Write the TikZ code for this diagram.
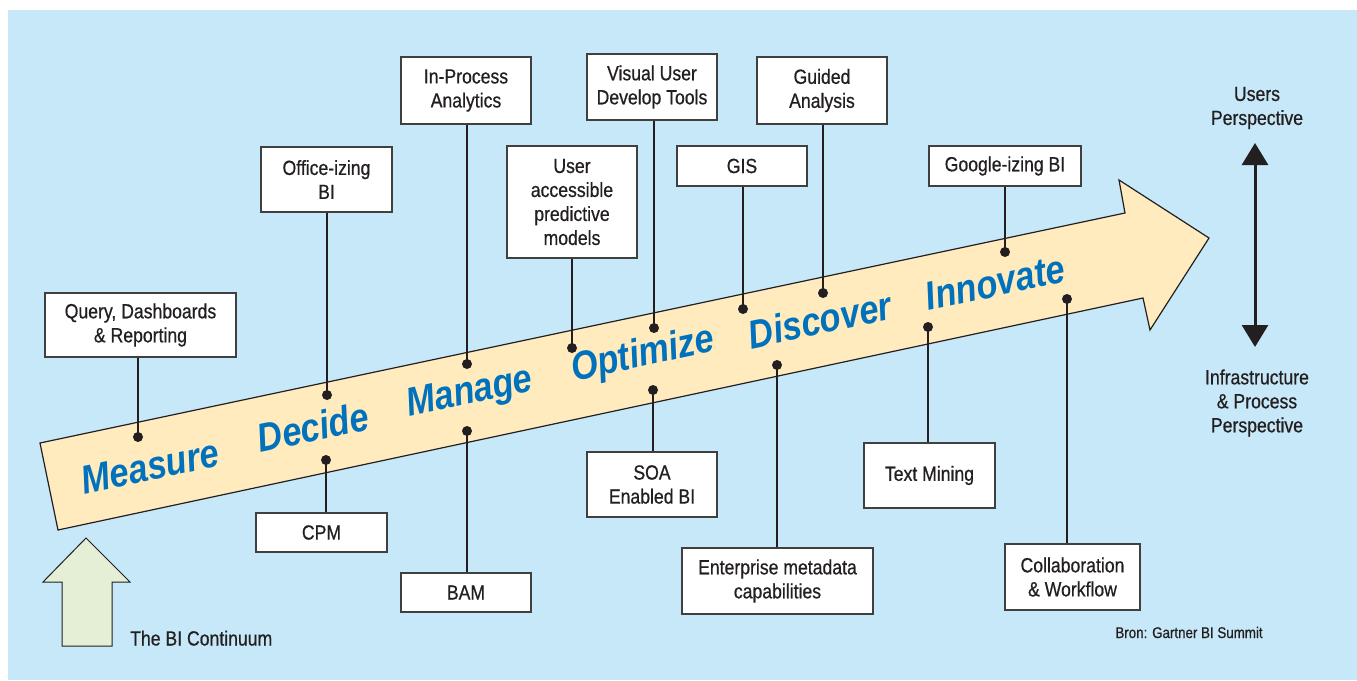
\documentclass[tikz,border=0pt]{standalone}
\usepackage{fontspec}
\setmainfont[FakeStretch=0.86,FakeBold=0.6]{Liberation Sans}
\newfontfamily\bigwordfont[FakeStretch=0.86]{Liberation Sans}
\usetikzlibrary{arrows.meta}
\definecolor{bgblue}{HTML}{C6E8F8}
\definecolor{arrowfill}{HTML}{FFEBBE}
\definecolor{greenfill}{HTML}{E4EFD6}
\definecolor{ink}{HTML}{231F20}
\definecolor{boxline}{HTML}{404040}
\definecolor{wordblue}{HTML}{0071BC}
\begin{document}
\begin{tikzpicture}[x=1pt,y=-1pt,
  box/.style={draw=boxline, fill=white, line width=1.3pt, align=center, inner sep=0pt,
    text=ink, font=\fontsize{20.5}{24}\selectfont},
  dot/.style={circle, fill=ink, inner sep=0pt, minimum size=10pt},
  conn/.style={draw=ink, line width=1.3pt},
  word/.style={text=wordblue, rotate=12, inner sep=0pt,
    font=\bigwordfont\bfseries\itshape\fontsize{40}{40}\selectfont},
  plain/.style={text=ink, align=center, inner sep=0pt, font=\fontsize{20.5}{24}\selectfont}]
\useasboundingbox (0,0) rectangle (1357,680);
\fill[white] (0,0) rectangle (1357,680);
\fill[bgblue] (8,10) rectangle (1357,680);

% main arrow
\draw[ink, line width=1.2pt, fill=arrowfill, line join=miter]
  (40,443) -- (1125,213) -- (1119,180) -- (1209,238) -- (1150,330) -- (1143,298) -- (58,530) -- cycle;

% green arrow
\draw[ink, line width=1pt, fill=greenfill]
  (86,538) -- (130,582) -- (112,582) -- (112,646) -- (62,646) -- (62,582) -- (43,582) -- cycle;

% words
\node[word] (wmeasure) at (150,467) {Measure};
\node[word] (wdecide) at (313,427) {Decide};
\node[word] (wmanage) at (470,394) {Manage};
\node[word] (woptimize) at (643,356) {Optimize};
\node[word] (wdiscover) at (820,320) {Discover};
\node[word] (winnovate) at (995,283) {Innovate};

% dots
\node[dot] (dq) at (138,437) {};
\node[dot] (doff) at (327,395) {};
\node[dot] (dcpm) at (326,460) {};
\node[dot] (dinp) at (467,364) {};
\node[dot] (dbam) at (467,431) {};
\node[dot] (duap) at (572,348) {};
\node[dot] (dvud) at (654,328) {};
\node[dot] (dsoa) at (653,390) {};
\node[dot] (dgis) at (743,309) {};
\node[dot] (dga) at (823,293) {};
\node[dot] (demc) at (777,365) {};
\node[dot] (dgog) at (1005,252) {};
\node[dot] (dtm) at (928,327) {};
\node[dot] (dcw) at (1067,299) {};

% boxes
\node[box, minimum width=191pt, minimum height=64pt] (q) at (140.5,325) {Query, Dashboards\\\& Reporting};
\node[box, minimum width=131pt, minimum height=65pt] (off) at (326.5,179.5) {Office-izing\\BI};
\node[box, minimum width=131pt, minimum height=39pt] (cpm) at (321.5,532.5) {CPM};
\node[box, minimum width=130pt, minimum height=67pt] (inp) at (466,90.5) {In-Process\\Analytics};
\node[box, minimum width=130pt, minimum height=39pt] (bam) at (466,592.5) {BAM};
\node[box, minimum width=130pt, minimum height=112pt] (uap) at (572,202) {User\\accessible\\predictive\\models};
\node[box, minimum width=130pt, minimum height=66pt] (vud) at (652,87) {Visual User\\Develop Tools};
\node[box, minimum width=130pt, minimum height=65pt] (soa) at (652,484.5) {SOA\\Enabled BI};
\node[box, minimum width=130pt, minimum height=40pt] (gis) at (742,166) {GIS};
\node[box, minimum width=130pt, minimum height=67pt] (ga) at (822,90.5) {Guided\\Analysis};
\node[box, minimum width=191pt, minimum height=66pt] (emc) at (777.5,581) {Enterprise metadata\\capabilities};
\node[box, minimum width=152pt, minimum height=40pt] (gog) at (1005,166) {Google-izing BI};
\node[box, minimum width=131pt, minimum height=65pt] (tm) at (929.5,475.5) {Text Mining};
\node[box, minimum width=135pt, minimum height=66pt] (cw) at (1072.5,577) {Collaboration\\\& Workflow};

% connectors
\draw[conn] (q.south -| dq) -- (dq.center);
\draw[conn] (off.south -| doff) -- (doff.center);
\draw[conn] (dcpm.center) -- (cpm.north -| dcpm);
\draw[conn] (inp.south -| dinp) -- (dinp.center);
\draw[conn] (dbam.center) -- (bam.north -| dbam);
\draw[conn] (uap.south -| duap) -- (duap.center);
\draw[conn] (vud.south -| dvud) -- (dvud.center);
\draw[conn] (dsoa.center) -- (soa.north -| dsoa);
\draw[conn] (gis.south -| dgis) -- (dgis.center);
\draw[conn] (ga.south -| dga) -- (dga.center);
\draw[conn] (demc.center) -- (emc.north -| demc);
\draw[conn] (gog.south -| dgog) -- (dgog.center);
\draw[conn] (dtm.center) -- (tm.north -| dtm);
\draw[conn] (dcw.center) -- (cw.north -| dcw);

% perspective arrow
\coordinate (ptop) at (1255,143);
\coordinate (pbot) at (1255,347);
\draw[ink, line width=3pt, {Triangle[width=26pt,length=22pt]}-{Triangle[width=26pt,length=22pt]}] (ptop) -- (pbot);
\node[plain] (users) at (1257,108) {Users\\Perspective};
\node[plain] (infra) at (1257,403) {Infrastructure\\\& Process\\Perspective};

% labels
\node[plain, anchor=base west] (cont) at (130,645.5) {The BI Continuum};
\node[plain, anchor=base, font=\fontsize{15.5}{17}\selectfont] (bron) at (1189,638) {Bron: Gartner BI Summit};
\end{tikzpicture}
\end{document}
